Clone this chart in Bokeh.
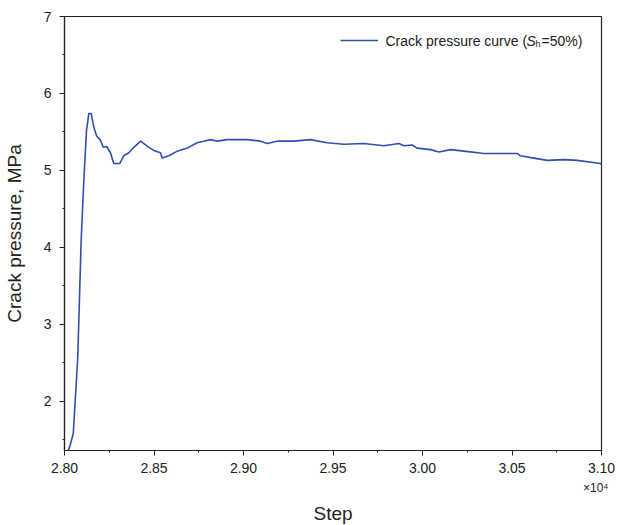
from bokeh.plotting import figure
from bokeh.models import (Range1d, FixedTicker, CustomJSTickFormatter, Label,
                          Legend, LegendItem, Title)
from bokeh.embed import file_html
from bokeh.resources import INLINE

# Crack pressure (MPa) against simulation step
steps = [28021, 28028, 28049, 28061, 28074, 28085, 28093, 28108, 28123, 28136,
         28149, 28164, 28179, 28201, 28216, 28235, 28257, 28275, 28309, 28331,
         28359, 28392, 28425, 28471, 28499, 28536, 28546, 28583, 28630, 28686,
         28741, 28778, 28816, 28853, 28909, 29021, 29095, 29132, 29188, 29281,
         29374, 29467, 29560, 29672, 29784, 29868, 29896, 29942, 29970, 30045,
         30091, 30157, 30231, 30343, 30454, 30529, 30547, 30622, 30697, 30790,
         30864, 30994, 31000]
pressure = [1.36, 1.40, 1.58, 2.05, 2.57, 3.44, 4.09, 4.87, 5.52, 5.74,
            5.74, 5.56, 5.45, 5.39, 5.30, 5.31, 5.23, 5.09, 5.09, 5.19,
            5.23, 5.31, 5.38, 5.30, 5.26, 5.23, 5.16, 5.19, 5.25, 5.29,
            5.36, 5.38, 5.40, 5.38, 5.40, 5.40, 5.38, 5.35, 5.38, 5.38,
            5.40, 5.36, 5.34, 5.35, 5.32, 5.35, 5.32, 5.33, 5.29, 5.27,
            5.24, 5.27, 5.25, 5.22, 5.22, 5.22, 5.19, 5.16, 5.13, 5.14,
            5.13, 5.09, 5.08]

x_major = [28000, 28500, 29000, 29500, 30000, 30500, 31000]
x_minor = [28250, 28750, 29250, 29750, 30250, 30750]
y_major = [2, 3, 4, 5, 6, 7]
y_minor = [1.5, 2.5, 3.5, 4.5, 5.5, 6.5]

FONT = "Liberation Sans"
INK = "#222222"
BLUE = "#2f4fb3"

p = figure(width=617, height=525, output_backend="svg", toolbar_location=None,
           x_range=Range1d(28000, 31000), y_range=Range1d(1.36, 7),
           min_border_left=64, min_border_right=16, min_border_top=16,
           min_border_bottom=0)
p.grid.visible = False
p.outline_line_color = INK
p.outline_line_width = 1.2
p.background_fill_color = "white"
p.border_fill_color = "white"

r = p.line(steps, pressure, line_color=BLUE, line_width=1.6)

for ax in (p.xaxis[0], p.yaxis[0]):
    ax.axis_line_color = INK
    ax.axis_line_width = 1.2
    ax.major_tick_line_color = INK
    ax.minor_tick_line_color = INK
    ax.major_tick_out = 5
    ax.major_tick_in = 0
    ax.minor_tick_out = 2
    ax.minor_tick_in = 0
    ax.major_label_text_font = FONT
    ax.major_label_text_font_size = "14px"
    ax.major_label_text_color = INK
    ax.axis_label_text_font = FONT
    ax.axis_label_text_font_size = "19px"
    ax.axis_label_text_font_style = "normal"
    ax.axis_label_text_color = INK

p.xaxis.ticker = FixedTicker(ticks=x_major, minor_ticks=x_minor)
p.yaxis.ticker = FixedTicker(ticks=y_major, minor_ticks=y_minor)
p.xaxis.formatter = CustomJSTickFormatter(code="return (tick / 1e4).toFixed(2);")
p.yaxis.axis_label = "Crack pressure, MPa"
p.xaxis.major_label_standoff = 7
p.yaxis.major_label_standoff = 8
p.yaxis.axis_label_standoff = 16

# multiplier and x-axis title, stacked under the tick labels
p.add_layout(Title(text="×10⁴", align="right", offset=-7, standoff=7,
                   text_font=FONT, text_font_size="12px",
                   text_font_style="normal", text_color=INK), "below")
p.add_layout(Title(text="Step", align="center", standoff=4,
                   text_font=FONT, text_font_size="19px",
                   text_font_style="normal", text_color=INK), "below")

# legend: sample line from the library legend, label text composed in pieces
legend = Legend(items=[LegendItem(label=" ", renderers=[r])],
                location=(276, 400), padding=0, margin=0, spacing=0,
                glyph_width=38, glyph_height=20, label_standoff=0,
                label_width=1, label_height=20, border_line_alpha=0,
                background_fill_alpha=0, label_text_font_size="1px")
p.add_layout(legend)

ly = 410
p.add_layout(Label(x=321, y=ly, x_units="screen", y_units="screen",
                   text="Crack pressure curve (", text_font=FONT,
                   text_font_size="14px", text_color=INK, text_baseline="middle"))
p.add_layout(Label(x=462, y=ly, x_units="screen", y_units="screen",
                   text="S", text_font=FONT, text_font_style="italic",
                   text_font_size="14px", text_color=INK, text_baseline="middle"))
p.add_layout(Label(x=471, y=ly - 3, x_units="screen", y_units="screen",
                   text="h", text_font=FONT, text_font_size="9px",
                   text_color=INK, text_baseline="middle"))
p.add_layout(Label(x=477, y=ly, x_units="screen", y_units="screen",
                   text="=50%)", text_font=FONT, text_font_size="14px",
                   text_color=INK, text_baseline="middle"))

open("out.html", "w").write(file_html(p, INLINE))
